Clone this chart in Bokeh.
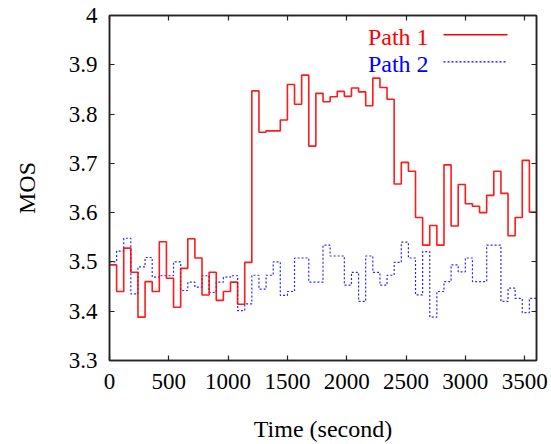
from bokeh.plotting import figure
from bokeh.models import LinearAxis, FixedTicker, Range1d, Label, Arrow
from bokeh.embed import file_html
from bokeh.resources import INLINE

# ---- data (one value per 60 s interval) ----
step_seconds = 60
path1 = [3.494, 3.44, 3.528, 3.479, 3.388, 3.46, 3.44, 3.541, 3.467, 3.408,
         3.487, 3.547, 3.508, 3.433, 3.479, 3.422, 3.44, 3.459, 3.414, 3.499,
         3.847, 3.763, 3.766, 3.766, 3.788, 3.86, 3.82, 3.879, 3.735, 3.842,
         3.825, 3.835, 3.846, 3.836, 3.853, 3.845, 3.817, 3.873, 3.854, 3.83,
         3.658, 3.702, 3.684, 3.59, 3.534, 3.574, 3.534, 3.697, 3.573, 3.657,
         3.618, 3.613, 3.60, 3.635, 3.684, 3.639, 3.553, 3.59, 3.706, 3.601]
path2 = [3.50, 3.522, 3.548, 3.435, 3.49, 3.509, 3.469, 3.472, 3.472, 3.50,
         3.442, 3.459, 3.449, 3.472, 3.438, 3.459, 3.469, 3.472, 3.401, 3.415,
         3.473, 3.445, 3.473, 3.50, 3.432, 3.44, 3.508, 3.508, 3.459, 3.459,
         3.534, 3.512, 3.512, 3.453, 3.479, 3.42, 3.512, 3.479, 3.453, 3.473,
         3.499, 3.54, 3.508, 3.433, 3.521, 3.388, 3.44, 3.46, 3.494, 3.48,
         3.508, 3.46, 3.46, 3.534, 3.534, 3.42, 3.447, 3.426, 3.397, 3.426]
series_names = ["Path 1", "Path 2"]
x_ticks = [0, 500, 1000, 1500, 2000, 2500, 3000, 3500]
y_ticks = [3.3, 3.4, 3.5, 3.6, 3.7, 3.8, 3.9, 4.0]
y_tick_labels = ["3.3", "3.4", "3.5", "3.6", "3.7", "3.8", "3.9", "4"]

times = [i * step_seconds for i in range(len(path1) + 1)]
p1 = path1 + [path1[-1]]
p2 = path2 + [path2[-1]]

FONT = "Liberation Serif"
AXIS_COLOR = "#222222"

p = figure(width=551, height=444, output_backend="svg", toolbar_location=None,
           x_range=Range1d(0, 3600), y_range=Range1d(3.3, 4.0),
           min_border_left=109, min_border_right=15, min_border_top=15,
           min_border_bottom=82, background_fill_color="white",
           border_fill_color="white")
p.grid.visible = False
p.outline_line_color = AXIS_COLOR
p.outline_line_width = 1.5

p.step(times, p2, mode="after", line_color="#0000ff", line_width=1.2,
       line_dash="2 2", line_alpha=0.85)
p.step(times, p1, mode="after", line_color="#ff0000", line_width=1.6,
       line_alpha=0.9)


def style_axis(ax, labels=True):
    ax.axis_line_color = AXIS_COLOR
    ax.axis_line_width = 1.5
    ax.major_tick_in = 5
    ax.major_tick_out = 0
    ax.major_tick_line_color = AXIS_COLOR
    ax.major_tick_line_width = 1.2
    ax.minor_tick_line_color = None
    ax.major_label_text_font = FONT
    ax.major_label_text_font_size = "23px"
    ax.major_label_text_color = "black" if labels else None
    ax.axis_label_text_font = FONT
    ax.axis_label_text_font_size = "24px"
    ax.axis_label_text_font_style = "normal"
    ax.axis_label_text_color = "black"


xa = p.xaxis[0]
xa.ticker = FixedTicker(ticks=x_ticks)
xa.axis_label = "Time (second)"
style_axis(xa)
xa.major_label_standoff = 13
xa.axis_label_standoff = 24

ya = p.yaxis[0]
ya.ticker = FixedTicker(ticks=y_ticks)
ya.major_label_overrides = {v: s for v, s in zip(y_ticks, y_tick_labels)}
ya.axis_label = "MOS"
style_axis(ya)
ya.major_label_standoff = 12
ya.axis_label_standoff = 26

top = LinearAxis(ticker=FixedTicker(ticks=x_ticks))
style_axis(top, labels=False)
top.major_label_text_font_size = "0px"
top.major_label_standoff = 0
p.add_layout(top, "above")

right = LinearAxis(ticker=FixedTicker(ticks=y_ticks))
style_axis(right, labels=False)
right.major_label_text_font_size = "0px"
right.major_label_standoff = 0
p.add_layout(right, "right")

# ---- legend (text left of sample line) ----
legend_text_x = 2690
legend_line_x = (2816, 3356)
legend_rows = [(3.957, 3.961, "#ff0000", None), (3.902, 3.906, "#0000ff", "2 2")]
for name, (ty, ly, col, dash) in zip(series_names, legend_rows):
    p.add_layout(Label(x=legend_text_x, y=ty, text=name, text_align="right",
                       text_baseline="alphabetic", text_color=col,
                       text_font=FONT, text_font_size="24px"))
    arr = Arrow(end=None, x_start=legend_line_x[0], y_start=ly,
                x_end=legend_line_x[1], y_end=ly, line_color=col,
                line_width=1.6 if dash is None else 1.2)
    if dash:
        arr.line_dash = dash
    p.add_layout(arr)

open("out.html", "w").write(file_html(p, INLINE))
